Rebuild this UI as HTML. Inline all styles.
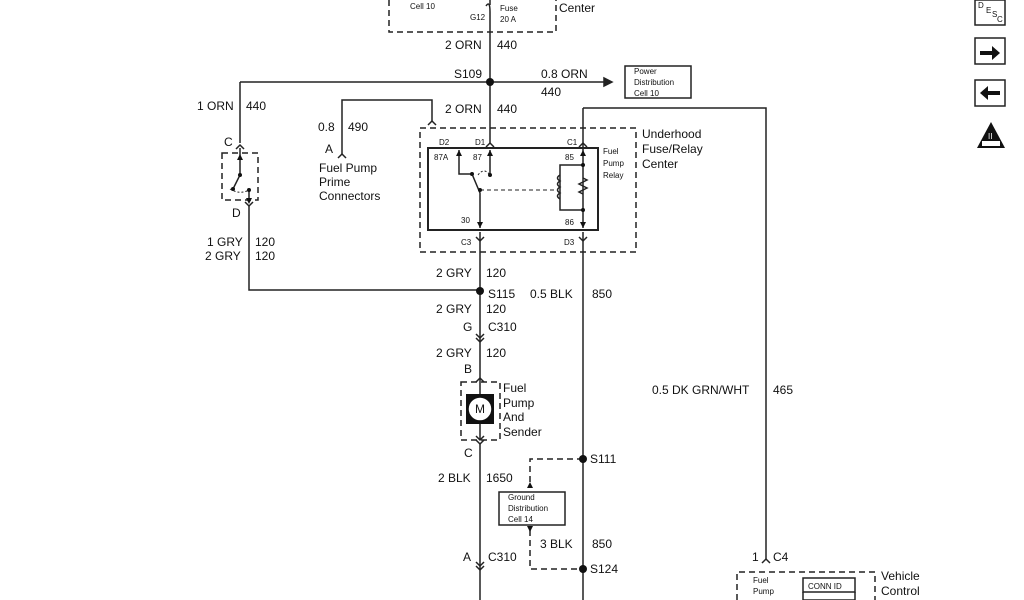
<!DOCTYPE html>
<html><head><meta charset="utf-8"><style>
html,body{margin:0;padding:0;background:#fff;}
svg{display:block;font-family:"Liberation Sans",sans-serif;}
.t{font-size:12px;fill:#111}
.s{font-size:8px;fill:#111}
</style></head><body>
<svg width="1024" height="600" viewBox="0 0 1024 600" xmlns="http://www.w3.org/2000/svg">
<g stroke="#222" stroke-width="1.5" fill="none">
<path d="M389 0 V32 H556 V0" stroke-dasharray="6,4"/>
<path d="M490 0 V5 M490 12 V143"/>
<path d="M486 6 q4 -6 4 6" />
<path d="M240 82 H610"/>
<path d="M240 82 V143"/>
<path d="M612 82 l-8 -4 v8 z" fill="#222"/>
<rect x="625" y="66" width="66" height="32"/>
<path d="M236 149 l4 -4 l4 4"/>
<path d="M240 148 V175 L233 189"/>
<path d="M249 205 V290 H480"/>
<path d="M245 202 l4 4 l4 -4"/>
<path d="M249 190 V200"/>
<path d="M222 153 H258 V200 H222 Z" stroke-dasharray="6,4"/>
<path d="M230 189 q10 6 19 1" stroke-dasharray="2,2" stroke-width="1"/>
<path d="M342 155 V100 H432 V122"/>
<path d="M338 158 l4 -4 l4 4 M428 125 l4 -4 l4 4"/>
<path d="M420 128 H636 V252 H420 Z" stroke-dasharray="6,4"/>
<rect x="428" y="148" width="170" height="82" stroke-width="2"/>
<path d="M486 147 l4 -4 l4 4 M579 147 l4 -4 l4 4 M476 237 l4 4 l4 -4 M579 237 l4 4 l4 -4"/>
<path d="M490 150 V175 M459 150 V174 H472 L480 193 V228 M583 108 V228 M583 165 H560 V210 H583"/>
<path d="M583 108 H766 V560"/>
<path d="M762 563 l4 -4 l4 4"/>
<path d="M478 175 q6 -8 12 0" stroke-dasharray="2,2" stroke-width="1"/>
<path d="M480 190 H555" stroke-dasharray="4,3" stroke-width="1"/>
<path d="M560 175 q-5 3 0 6 q-5 3 0 6 q-5 3 0 6 q-5 3 0 6 M583 178 l4 2 l-8 4 l8 4 l-8 4 l4 2"/>
<path d="M480 232 V440"/>
<path d="M583 232 V600"/>
<path d="M476 334 l4 4 l4 -4 M476 338 l4 4 l4 -4"/>
<path d="M476 382 l4 -4 l4 4 M476 436 l4 4 l4 -4 M476 440 l4 4 l4 -4"/>
<path d="M461 382 H500 V440 H461 Z" stroke-dasharray="6,4"/>
<path d="M480 444 V600"/>
<path d="M476 562 l4 4 l4 -4 M476 566 l4 4 l4 -4"/>
<path d="M583 459 H530 V485 M530 530 V569 H583" stroke-dasharray="6,4"/>
<rect x="499" y="492" width="66" height="33"/>
<path d="M737 600 V572 H875 V600" stroke-dasharray="6,4"/>
<rect x="803" y="578" width="52" height="14"/>
<path d="M803 592 V600 H855 V592"/>
<rect x="975" y="0" width="30" height="25"/>
<rect x="975" y="38" width="30" height="26"/>
<rect x="975" y="80" width="30" height="26"/>
</g>
<g fill="#111">
<circle cx="490" cy="82" r="4"/><circle cx="480" cy="291" r="4"/>
<circle cx="583" cy="459" r="4"/><circle cx="583" cy="569" r="4"/>
<circle cx="240" cy="175" r="2"/><circle cx="233" cy="189" r="2"/><circle cx="249" cy="190" r="2"/>
<circle cx="490" cy="175" r="2"/><circle cx="472" cy="174" r="2"/><circle cx="480" cy="190" r="2"/>
<circle cx="583" cy="165" r="2"/><circle cx="583" cy="210" r="2"/>
<path d="M530 482 l-3 6 h6z M530 532 l-3 -6 h6z"/>
<path d="M237 160 l3 -6 l3 6z M246 198 l3 6 l3 -6z M456 156 l3 -6 l3 6z M487 156 l3 -6 l3 6z M580 156 l3 -6 l3 6z M477 222 l3 6 l3 -6z M580 222 l3 6 l3 -6z"/>
<rect x="466" y="394" width="28" height="30"/>
<path d="M980 51 h12 v-5 l8 7 l-8 7 v-5 h-12z M1000 91 h-12 v-5 l-8 7 l8 7 v-5 h12z"/>
<path d="M991 122 L1005 148 H977 Z"/>
</g>
<circle cx="480" cy="409" r="12" fill="#fff" stroke="#111" stroke-width="1.5"/>
<text x="475" y="413" class="t" font-size="11">M</text>
<text x="988" y="139" font-size="8" fill="#fff">II</text>
<rect x="982" y="141" width="18" height="5" fill="#fff"/>
<text x="410" y="9" class="s">Cell 10</text>
<text x="470" y="20" class="s">G12</text>
<text x="500" y="11" class="s">Fuse</text><text x="500" y="22" class="s">20 A</text>
<text x="559" y="12" class="t">Center</text>
<text x="445" y="49" class="t">2 ORN</text><text x="497" y="49" class="t">440</text>
<text x="454" y="78" class="t">S109</text>
<text x="541" y="78" class="t">0.8 ORN</text><text x="541" y="96" class="t">440</text>
<text x="634" y="74" class="s">Power</text><text x="634" y="85" class="s">Distribution</text><text x="634" y="96" class="s">Cell 10</text>
<text x="445" y="113" class="t">2 ORN</text><text x="497" y="113" class="t">440</text>
<text x="197" y="110" class="t">1 ORN</text><text x="246" y="110" class="t">440</text>
<text x="224" y="146" class="t">C</text><text x="232" y="217" class="t">D</text>
<text x="207" y="246" class="t">1 GRY</text><text x="255" y="246" class="t">120</text>
<text x="205" y="260" class="t">2 GRY</text><text x="255" y="260" class="t">120</text>
<text x="318" y="131" class="t">0.8</text><text x="348" y="131" class="t">490</text>
<text x="325" y="153" class="t">A</text>
<text x="319" y="172" class="t">Fuel Pump</text><text x="319" y="186" class="t">Prime</text><text x="319" y="200" class="t">Connectors</text>
<text x="439" y="145" class="s">D2</text><text x="475" y="145" class="s">D1</text><text x="567" y="145" class="s">C1</text>
<text x="434" y="160" class="s">87A</text><text x="473" y="160" class="s">87</text><text x="565" y="160" class="s">85</text>
<text x="461" y="223" class="s">30</text><text x="565" y="225" class="s">86</text>
<text x="461" y="245" class="s">C3</text><text x="564" y="245" class="s">D3</text>
<text x="603" y="154" class="s">Fuel</text><text x="603" y="166" class="s">Pump</text><text x="603" y="178" class="s">Relay</text>
<text x="642" y="138" class="t">Underhood</text><text x="642" y="153" class="t">Fuse/Relay</text><text x="642" y="168" class="t">Center</text>
<text x="436" y="277" class="t">2 GRY</text><text x="486" y="277" class="t">120</text>
<text x="488" y="298" class="t">S115</text>
<text x="530" y="298" class="t">0.5 BLK</text><text x="592" y="298" class="t">850</text>
<text x="436" y="313" class="t">2 GRY</text><text x="486" y="313" class="t">120</text>
<text x="463" y="331" class="t">G</text><text x="488" y="331" class="t">C310</text>
<text x="436" y="357" class="t">2 GRY</text><text x="486" y="357" class="t">120</text>
<text x="464" y="373" class="t">B</text>
<text x="503" y="392" class="t">Fuel</text><text x="503" y="407" class="t">Pump</text><text x="503" y="421" class="t">And</text><text x="503" y="436" class="t">Sender</text>
<text x="464" y="457" class="t">C</text>
<text x="438" y="482" class="t">2 BLK</text><text x="486" y="482" class="t">1650</text>
<text x="590" y="463" class="t">S111</text>
<text x="508" y="500" class="s">Ground</text><text x="508" y="511" class="s">Distribution</text><text x="508" y="522" class="s">Cell 14</text>
<text x="540" y="548" class="t">3 BLK</text><text x="592" y="548" class="t">850</text>
<text x="463" y="561" class="t">A</text><text x="488" y="561" class="t">C310</text>
<text x="590" y="573" class="t">S124</text>
<text x="652" y="394" class="t">0.5 DK GRN/WHT</text><text x="773" y="394" class="t">465</text>
<text x="752" y="561" class="t">1</text><text x="773" y="561" class="t">C4</text>
<text x="753" y="583" class="s">Fuel</text><text x="753" y="594" class="s">Pump</text>
<text x="808" y="589" class="s">CONN ID</text>
<text x="881" y="580" class="t">Vehicle</text><text x="881" y="595" class="t">Control</text>
<text x="978" y="8" class="s">D</text><text x="986" y="13" class="s">E</text><text x="992" y="17" class="s">S</text><text x="997" y="22" class="s">C</text>
</svg>
</body></html>
